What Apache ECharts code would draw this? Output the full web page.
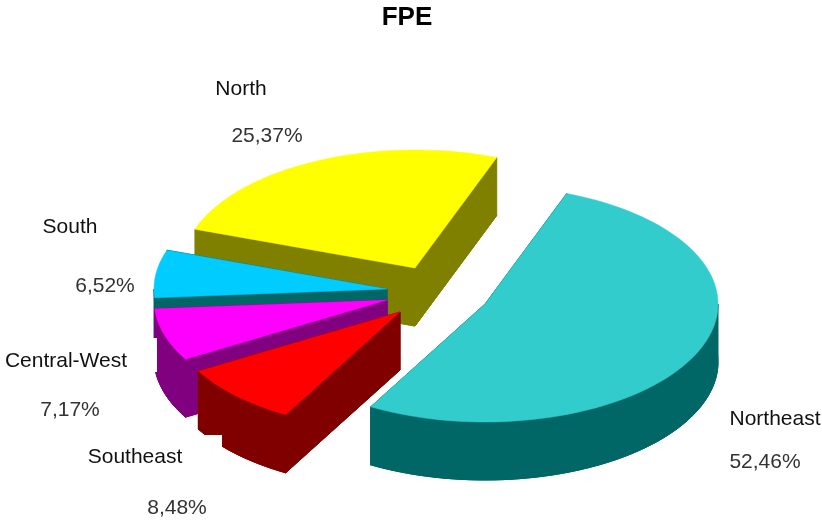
<!DOCTYPE html>
<html>
<head>
<meta charset="utf-8">
<style>html,body{margin:0;padding:0;background:#fff}#c{width:822px;height:523px}</style>
<script src="https://cdn.jsdelivr.net/npm/echarts@6/dist/echarts.min.js"></script>
</head>
<body>
<div id="c"></div>
<script>
// Data, clockwise from the North slice
const categories = ['North', 'Northeast', 'Southeast', 'Central-West', 'South'];
const shares = [25.37, 52.46, 8.48, 7.17, 6.52];

// Appearance and layout, by category name
const topColors = { North: '#FFFF00', Northeast: '#33CCCC', Southeast: '#FF0000', 'Central-West': '#FF00FF', South: '#00CCFF' };
const sideColors = { North: '#808000', Northeast: '#006666', Southeast: '#800000', 'Central-West': '#800080', South: '#006666' };
const apex = { North: [415, 268], Northeast: [485, 304], Southeast: [400, 312], 'Central-West': [387, 300], South: [387, 289] };
const labelAt = {
  North: [241, 89, 267, 136], Northeast: [775, 419, 765, 462], Southeast: [135, 457, 177, 508],
  'Central-West': [66, 361, 70, 410], South: [70, 227, 105, 286]
};
const labelMasks = { Southeast: [80, 435, 142, 88], 'Central-West': [0, 338, 157, 34] };
const paintOrder = ['North', 'South', 'Central-West', 'Southeast', 'Northeast'];
const RX = 233, RY = 118, DEPTH = 58, START = -70.8;

const total = shares.reduce((a, b) => a + b, 0);
let acc = START;
const sweep = {};
categories.forEach((name, i) => {
  const a = shares[i] / total * 360;
  sweep[name] = [acc, acc + a];
  acc += a;
});

function arcPoints(name, a0, a1) {
  const [cx, cy] = apex[name];
  const pts = [];
  const n = Math.max(8, Math.ceil((a1 - a0) / 2));
  for (let k = 0; k <= n; k++) {
    const t = (a0 + (a1 - a0) * k / n) * Math.PI / 180;
    pts.push([cx + RX * Math.sin(t), cy - RY * Math.cos(t)]);
  }
  return pts;
}

function renderItem(params, api) {
  const name = paintOrder[api.value(0)];
  const [a0, a1] = sweep[name];
  const arc = arcPoints(name, a0, a1);
  const c = apex[name];
  const down = p => [p[0], p[1] + DEPTH];
  const first = arc[0], last = arc[arc.length - 1];
  const side = sideColors[name];
  const sideStyle = { fill: side, stroke: side, lineWidth: 1 };
  const topFill = topColors[name];
  const polygons = [
    [down(c)].concat(arc.map(down)),
    [c, first, down(first), down(c)],
    [c, last, down(last), down(c)]
  ];
  // Outer wall: only the part of the rim that faces the viewer
  const lo = Math.max(a0, 90), hi = Math.min(a1, 270);
  if (hi > lo) {
    const front = arcPoints(name, lo, hi);
    polygons.push(front.concat(front.map(down).reverse()));
  }
  const children = polygons.map(points => ({ type: 'polygon', shape: { points }, style: sideStyle }));
  children.push({ type: 'polygon', shape: { points: [c].concat(arc) }, style: { fill: topFill, stroke: topFill, lineWidth: 0.5 } });
  return { type: 'group', children };
}

function renderLabel(params, api) {
  const name = categories[api.value(0)];
  const pos = labelAt[name];
  const value = shares[api.value(0)].toFixed(2).replace('.', ',') + '%';
  const font = '21px "Liberation Sans", Arial, sans-serif';
  const children = [];
  if (labelMasks[name]) {
    const m = labelMasks[name];
    children.push({ type: 'rect', shape: { x: m[0], y: m[1], width: m[2], height: m[3] }, style: { fill: '#fff' } });
  }
  children.push({ type: 'text', style: { text: name, x: pos[0], y: pos[1], align: 'center', verticalAlign: 'middle', font, fill: '#111' } });
  children.push({ type: 'text', style: { text: value, x: pos[2], y: pos[3], align: 'center', verticalAlign: 'middle', font, fill: '#333' } });
  return { type: 'group', children };
}

const chart = echarts.init(document.getElementById('c'), null, { renderer: 'canvas' });
chart.setOption({
  animation: false,
  backgroundColor: '#fff',
  title: {
    text: 'FPE', left: 402, top: 0, textAlign: 'center',
    textStyle: { fontFamily: '"Liberation Sans", Arial, sans-serif', fontWeight: 'bold', fontSize: 26, color: '#000' }
  },
  series: [
    { type: 'custom', coordinateSystem: 'none', renderItem, data: paintOrder.map((n, i) => [i]), silent: true, z: 2 },
    { type: 'custom', coordinateSystem: 'none', renderItem: renderLabel, data: categories.map((n, i) => [i]), silent: true, z: 3 }
  ]
});
</script>
</body>
</html>
